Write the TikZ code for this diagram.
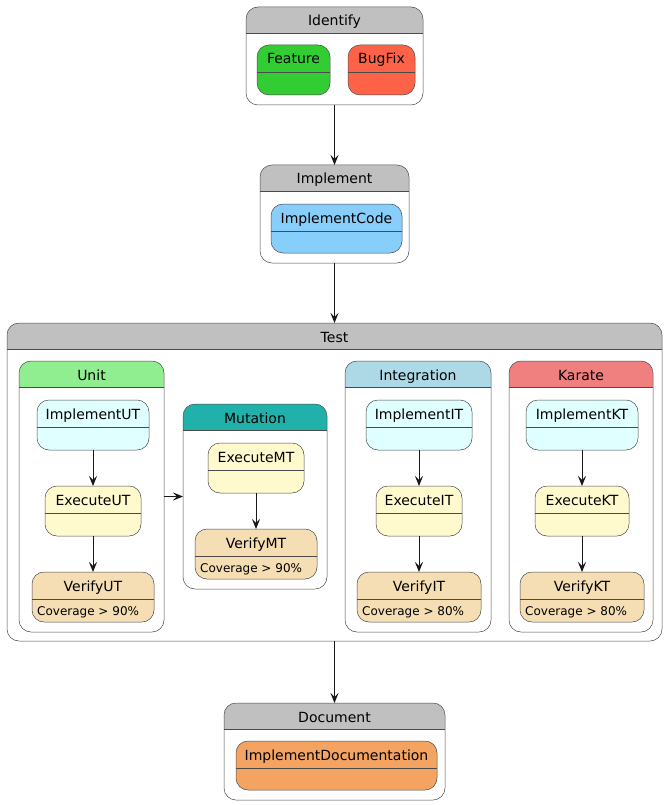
\documentclass[tikz,border=0pt]{standalone}
\usepackage{fontspec}
\setmainfont{DejaVu Sans}
\usetikzlibrary{arrows.meta}

\definecolor{linec}{HTML}{181818}
\definecolor{borderc}{HTML}{4A4A4A}
\definecolor{headgray}{HTML}{C0C0C0}
\definecolor{featurec}{HTML}{32CD32}
\definecolor{bugfixc}{HTML}{FF6347}
\definecolor{codec}{HTML}{87CEFA}
\definecolor{unitc}{HTML}{90EE90}
\definecolor{mutationc}{HTML}{20B2AA}
\definecolor{integrationc}{HTML}{ADD8E6}
\definecolor{karatec}{HTML}{F08080}
\definecolor{implc}{HTML}{E0FFFF}
\definecolor{execc}{HTML}{FFFACD}
\definecolor{verifyc}{HTML}{F5DEB3}
\definecolor{docc}{HTML}{F4A460}

\tikzset{
  stbox/.style={draw=borderc, line width=0.5pt, rounded corners=12pt, inner sep=0pt, outer sep=0pt},
  cpbox/.style={draw=borderc, line width=0.5pt, rounded corners=12pt, fill=white, inner sep=0pt, outer sep=0pt},
  sepline/.style={draw=borderc, line width=0.5pt},
  sttitle/.style={anchor=base, inner sep=0pt, font=\fontsize{14}{16}\selectfont},
  stdesc/.style={anchor=base west, inner sep=0pt, font=\fontsize{12}{14}\selectfont},
  flow/.style={draw=linec, line width=1pt, -{Stealth[length=10pt,width=8pt,inset=4pt]}}
}

\newcommand{\simplestate}[7]{%
  \node[stbox, fill=#6, minimum width={(#4)-(#2)}, minimum height={(#5)-(#3)}] (#1) at ({((#2)+(#4))/2},{((#3)+(#5))/2}) {};
  \draw[sepline] ([yshift=-27pt]#1.north west) -- ([yshift=-27pt]#1.north east);
  \node[sttitle] (#1-title) at ([yshift=-19pt]#1.north) {#7};
}

\newcommand{\compstate}[7]{%
  \node[cpbox, minimum width={(#4)-(#2)}, minimum height={(#5)-(#3)},
    path picture={\fill[#6, sharp corners] (path picture bounding box.north west) rectangle ([yshift=-26pt]path picture bounding box.north east);}]
    (#1) at ({((#2)+(#4))/2},{((#3)+(#5))/2}) {};
  \draw[sepline] ([yshift=-26pt]#1.north west) -- ([yshift=-26pt]#1.north east);
  \node[sttitle] (#1-title) at ([yshift=-19pt]#1.north) {#7};
}

\begin{document}
\begin{tikzpicture}[x=1pt, y=-1pt]
  \useasboundingbox (0,0) rectangle (668,805);

  \compstate{Identify}{246}{7}{423}{105}{headgray}{Identify}
  \simplestate{Feature}{257}{45}{330}{95}{featurec}{Feature}
  \simplestate{BugFix}{348}{45}{415}{95}{bugfixc}{BugFix}

  \compstate{Implement}{260}{165}{409}{263}{headgray}{Implement}
  \simplestate{ImplementCode}{271}{204}{402}{253}{codec}{ImplementCode}

  \compstate{Test}{7}{323}{662}{641}{headgray}{Test}

  \compstate{Unit}{19}{361}{164}{632}{unitc}{Unit}
  \simplestate{ImplementUT}{37}{400}{149}{450}{implc}{ImplementUT}
  \simplestate{ExecuteUT}{45}{486}{141}{536}{execc}{ExecuteUT}
  \simplestate{VerifyUT}{32}{572}{154}{622}{verifyc}{VerifyUT}
  \node[stdesc] (VerifyUT-desc) at ([xshift=5pt,yshift=-43pt]VerifyUT.north west) {Coverage > 90\%};

  \compstate{Mutation}{183}{404}{327}{589}{mutationc}{Mutation}
  \simplestate{ExecuteMT}{208}{443}{304}{493}{execc}{ExecuteMT}
  \simplestate{VerifyMT}{195}{529}{317}{579}{verifyc}{VerifyMT}
  \node[stdesc] (VerifyMT-desc) at ([xshift=5pt,yshift=-43pt]VerifyMT.north west) {Coverage > 90\%};

  \compstate{Integration}{345}{361}{491}{632}{integrationc}{Integration}
  \simplestate{ImplementIT}{366}{400}{472}{450}{implc}{ImplementIT}
  \simplestate{ExecuteIT}{376}{486}{462}{536}{execc}{ExecuteIT}
  \simplestate{VerifyIT}{357}{572}{481}{622}{verifyc}{VerifyIT}
  \node[stdesc] (VerifyIT-desc) at ([xshift=5pt,yshift=-43pt]VerifyIT.north west) {Coverage > 80\%};

  \compstate{Karate}{509}{361}{653}{632}{karatec}{Karate}
  \simplestate{ImplementKT}{526}{400}{638}{450}{implc}{ImplementKT}
  \simplestate{ExecuteKT}{535}{486}{629}{536}{execc}{ExecuteKT}
  \simplestate{VerifyKT}{520}{572}{644}{622}{verifyc}{VerifyKT}
  \node[stdesc] (VerifyKT-desc) at ([xshift=5pt,yshift=-43pt]VerifyKT.north west) {Coverage > 80\%};

  \compstate{Document}{224}{703}{445}{800}{headgray}{Document}
  \simplestate{ImplementDocumentation}{236}{741}{437}{790}{docc}{ImplementDocumentation}

  \draw[flow] (Identify.south) -- (Implement.north);
  \draw[flow] (Implement.south) -- (Test.north);
  \draw[flow] (Test.south) -- (Document.north);
  \draw[flow] (ImplementUT.south) -- (ExecuteUT.north);
  \draw[flow] (ExecuteUT.south) -- (VerifyUT.north);
  \draw[flow] (Unit.east) -- (Mutation.west);
  \draw[flow] (ExecuteMT.south) -- (VerifyMT.north);
  \draw[flow] (ImplementIT.south) -- (ExecuteIT.north);
  \draw[flow] (ExecuteIT.south) -- (VerifyIT.north);
  \draw[flow] (ImplementKT.south) -- (ExecuteKT.north);
  \draw[flow] (ExecuteKT.south) -- (VerifyKT.north);
\end{tikzpicture}
\end{document}
